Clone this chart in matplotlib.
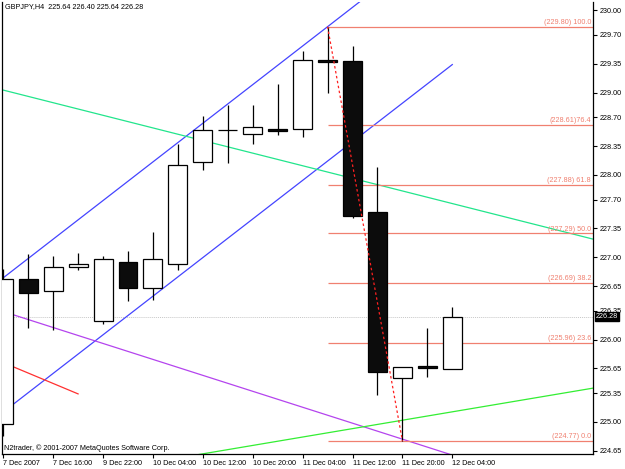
import numpy as np
import matplotlib
matplotlib.use("Agg")
import matplotlib.pyplot as plt

plt.rcParams['font.family'] = ['Liberation Sans', 'DejaVu Sans']

# GBPJPY H4 candles, 7 Dec 2007 08:00 .. 12 Dec 04:00
opens  = [224.98, 226.74, 226.59, 226.88, 226.23, 226.94, 226.63, 226.92, 228.16, 228.54,
          228.50, 228.56, 228.56, 229.39, 229.38, 227.55, 225.53, 225.68, 225.64]
highs  = [226.86, 227.04, 227.01, 227.05, 227.01, 227.08, 227.31, 228.37, 228.72, 228.85,
          228.85, 229.11, 229.50, 229.80, 229.56, 228.10, 225.67, 226.14, 226.40]
lows   = [224.83, 226.14, 226.12, 226.85, 226.19, 226.47, 226.48, 226.84, 228.06, 228.15,
          228.38, 228.49, 228.46, 228.99, 227.48, 225.33, 224.77, 225.55, 225.64]
closes = [226.74, 226.56, 226.88, 226.92, 226.98, 226.63, 226.98, 228.12, 228.54, 228.54,
          228.58, 228.53, 229.39, 229.37, 227.50, 225.61, 225.67, 225.66, 226.28]

time_labels = ["7 Dec 2007", "7 Dec 16:00", "9 Dec 22:00", "10 Dec 04:00", "10 Dec 12:00",
               "10 Dec 20:00", "11 Dec 04:00", "11 Dec 12:00", "11 Dec 20:00", "12 Dec 04:00"]
price_ticks = [230.00, 229.70, 229.35, 229.00, 228.70, 228.35, 228.00, 227.70, 227.35,
               227.00, 226.65, 226.35, 226.00, 225.65, 225.35, 225.00, 224.65]

# fibonacci retracement
fib_pct = [100.0, 76.4, 61.8, 50.0, 38.2, 23.6, 0.0]
fib_price = [229.80, 228.61, 227.88, 227.29, 226.69, 225.96, 224.77]
fib_start = 13
fib_trend = [(13, 229.80), (16, 224.77)]

# hand drawn trend lines: (bar index, price) anchors
chan_upper = [(0, 226.75), (13, 229.80), (17, 230.74)]
chan_lower = [(0, 225.12), (18, 229.34)]
teal_line = [(0, 229.03), (23.64, 227.22)]
violet_line = [(0, 226.34), (19, 224.50)]
red_line = [(0, 225.72), (3, 225.34)]
lime_line = [(6, 224.51), (23.64, 225.41)]

bid = 226.28

fig = plt.figure(figsize=(6.25, 4.69), dpi=100)
ax = fig.add_axes([2 / 625, 15 / 469, 591 / 625, 452 / 469])
fs = 5.2

x = np.arange(len(opens))
for i in x:
    o, h, l, c = opens[i], highs[i], lows[i], closes[i]
    ax.vlines(i, l, h, color='black', lw=0.9, zorder=3)
    if o == c:
        ax.hlines(o, i - 0.38, i + 0.38, color='black', lw=0.9, zorder=4)
    else:
        fc = 'white' if c > o else '#0c0c0c'
        ax.bar(i, abs(c - o), bottom=min(o, c), width=0.76, color=fc,
               edgecolor='black', lw=0.9, zorder=4)

def seg(pts, **kw):
    xs, ys = zip(*pts)
    ax.plot(xs, ys, **kw)

seg(chan_upper, color='#4444ff', lw=0.9, zorder=2)
seg(chan_lower, color='#4444ff', lw=0.9, zorder=2)
seg(teal_line, color='#22e58c', lw=0.9, zorder=2)
seg(violet_line, color='#b444ee', lw=0.9, zorder=2)
seg(red_line, color='#ff3030', lw=0.9, zorder=2)
seg(lime_line, color='#33ee33', lw=0.9, zorder=2)
seg(fib_trend, color='#ff2020', lw=0.9, ls=(0, (2, 2)), zorder=5)

ax.set_xlim(-0.05, 23.64)
ax.set_ylim(224.61, 230.10)

for p, pct in zip(fib_price, fib_pct):
    ax.hlines(p, fib_start, 23.64, color='#f08070', lw=0.9, zorder=2)
    sep = '' if pct == 76.4 else ' '
    ax.text(23.56, p + 0.01, f"({p:.2f}){sep}{pct:.1f}", color='#f08070', fontsize=fs,
            ha='right', va='bottom', zorder=6)

ax.axhline(bid, color='#c8c8c8', lw=0.7, ls=(0, (1, 1)), zorder=1)

ax.yaxis.tick_right()
ax.set_yticks(price_ticks)
ax.set_yticklabels([f"{t:.2f}" for t in price_ticks], fontsize=fs)
ax.tick_params(axis='y', length=3, width=0.8, pad=1.5)
ax.set_xticks(x[::2])
ax.set_xticklabels(time_labels, fontsize=fs, ha='left')
ax.tick_params(axis='x', length=3, width=0.8, pad=1)

ax.annotate(f"{bid:.2f}", xy=(1, bid), xycoords=('axes fraction', 'data'),
            xytext=(2, 0), textcoords='offset points', fontsize=fs, color='white',
            va='center', ha='left',
            bbox=dict(boxstyle='square,pad=0.15', fc='black', ec='black'))

ax.text(0.005, 0.997, "GBPJPY,H4  225.64 226.40 225.64 226.28", transform=ax.transAxes,
        fontsize=fs, ha='left', va='top')
ax.text(0.004, 0.004, "N2trader, © 2001-2007 MetaQuotes Software Corp.",
        transform=ax.transAxes, fontsize=fs, ha='left', va='bottom')

ax.spines['top'].set_visible(False)
for s in ['left', 'right', 'bottom']:
    ax.spines[s].set_linewidth(0.9)

fig.savefig('out.png', dpi=100, facecolor='white')
